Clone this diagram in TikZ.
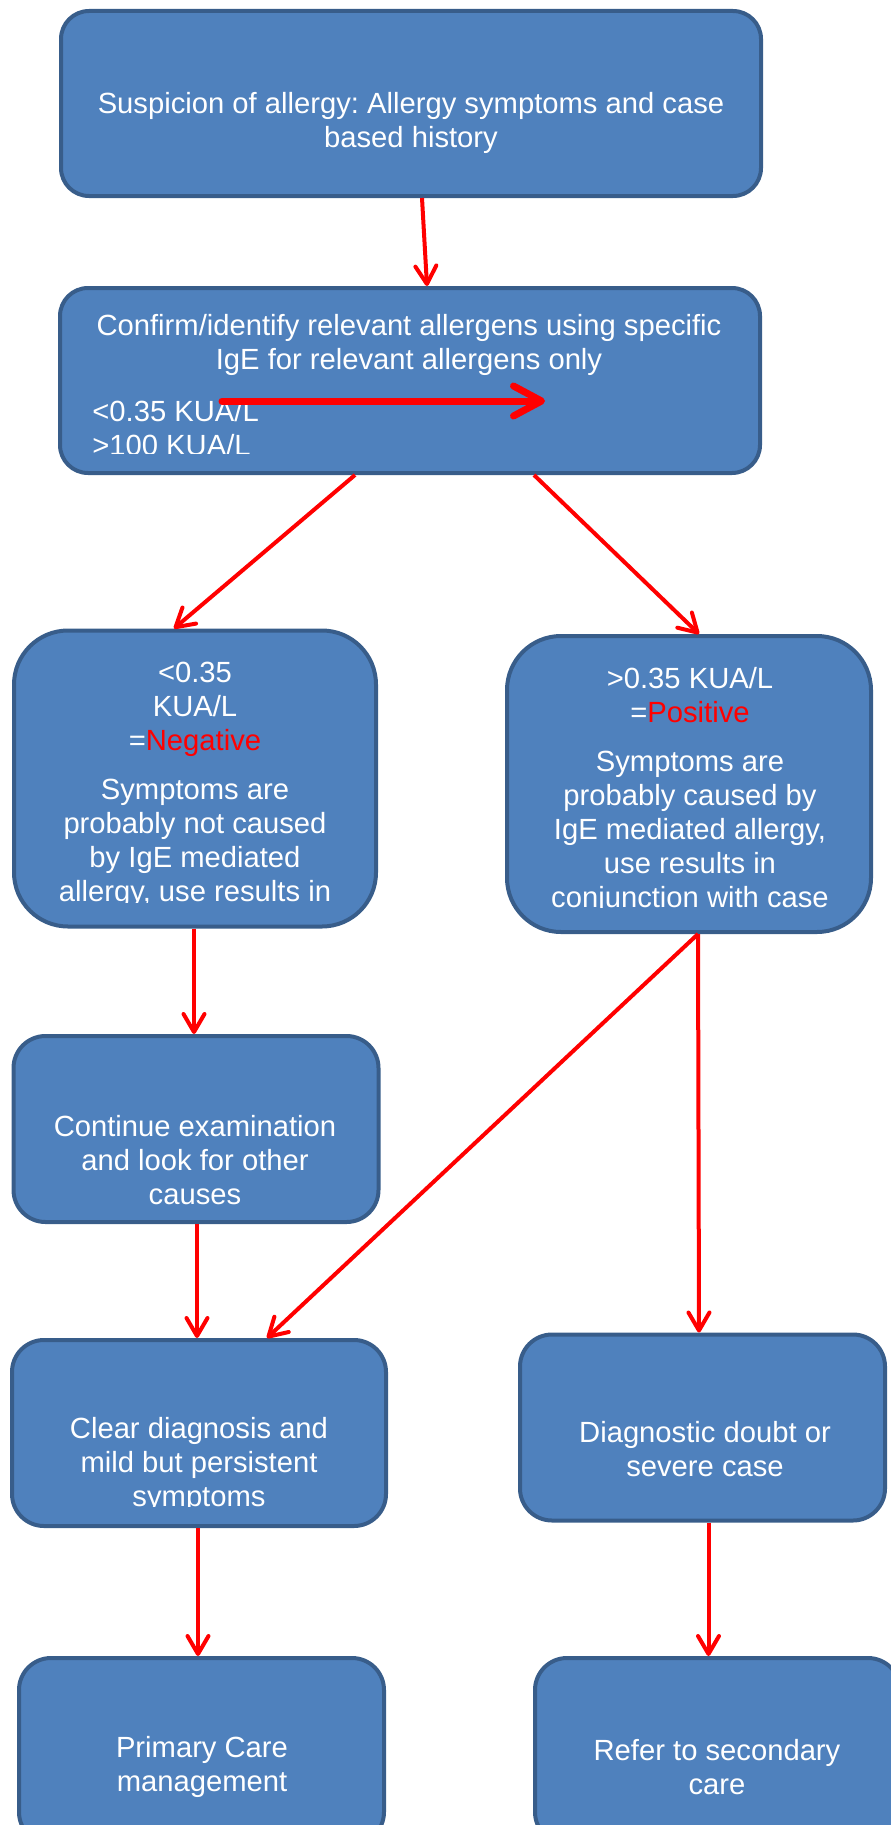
\documentclass[tikz,border=0pt]{standalone}
\usepackage{fontspec}
\setmainfont{Liberation Sans}
\usetikzlibrary{arrows.meta}
\frenchspacing

\definecolor{boxfill}{HTML}{4F81BD}
\definecolor{boxline}{HTML}{385D8A}

\begin{document}
\begin{tikzpicture}[
    x=0.5pt, y=-0.5pt,
    stage/.style={draw=boxline, fill=boxfill, line width=2pt, rounded corners=16pt, inner sep=0pt, minimum width=182.5pt, minimum height=93pt},
    topstage/.style={stage, rounded corners=14pt, minimum width=350pt, minimum height=92.5pt},
    bigstage/.style={stage, rounded corners=27pt, minimum height=148pt},
    txt/.style={text=white, font=\fontsize{14.6}{17}\selectfont, align=center, inner sep=0pt},
    link/.style={red, line width=2pt, -{Straight Barb[length=9pt,width=10.5pt,round]}},
    biglink/.style={red, line width=3.5pt, line cap=round, -{Straight Barb[length=14pt,width=15pt,round]}}
    ]
	\useasboundingbox (0,0) rectangle (890,1825);
	\node [topstage] (susp) at (411,103.5) {};
	\node [topstage] (igetest) at (410,380.5) {};
	\node [bigstage, minimum width=181pt] (neg) at (195,778.5) {};
	\node [bigstage, minimum width=182pt] (pos) at (689,784) {};
	\node [stage] (cont) at (196,1129) {};
	\node [stage, minimum width=187pt] (clear) at (199,1433) {};
	\node [stage] (doubt) at (702.5,1427.5) {};
	\node [stage] (prim) at (201.5,1751) {};
	\node [stage] (refer) at (717.5,1751) {};

	\node [txt] (susptext) at (411,123) {Suspicion of allergy: Allergy symptoms and case\\based history};
	\node [txt] (igetext) at (409,344.5) {Confirm/identify relevant allergens using specific\\IgE for relevant allergens only};
	\begin{scope}
		\clip (0,0) rectangle (890,453);
		\node [txt, anchor=west, align=left] (cuttext) at (92,428) {<0.35 KUA/L\\>100 KUA/L};
	\end{scope}
	\begin{scope}
		\clip (0,0) rectangle (890,902);
		\node [txt] (negtext) at (195,785) {<0.35\\KUA/L\\=\textcolor{red}{Negative}\\[7.5pt]Symptoms are\\probably not caused\\by IgE mediated\\allergy, use results in};
	\end{scope}
	\begin{scope}
		\clip (0,0) rectangle (890,907);
		\node [txt] (postext) at (690,790) {>0.35 KUA/L\\=\textcolor{red}{Positive}\\[7.5pt]Symptoms are\\probably caused by\\IgE mediated allergy,\\use results in\\conjunction with case};
	\end{scope}
	\node [txt] (conttext) at (195,1160) {Continue examination\\and look for other\\causes};
	\begin{scope}
		\clip (0,0) rectangle (890,1506);
		\node [txt] (cleartext) at (199,1465) {Clear diagnosis and\\mild but persistent\\symptoms};
	\end{scope}
	\node [txt] (doubttext) at (705,1449) {Diagnostic doubt or\\severe case};
	\node [txt] (primtext) at (202,1767) {Primary Care\\management};
	\node [txt] (refertext) at (717,1767) {Refer to secondary\\care};

	\coordinate (cutfrom) at (222,401);
	\coordinate (cutto) at (545,401);
	\draw [biglink] (cutfrom) -- (cutto);

	\draw [link] ([shift={(11,0)}]susp.south) -- ([shift={(17,0)}]igetest.north);
	\draw [link] ([shift={(-55,0)}]igetest.south) -- ([shift={(-21,0)}]neg.north);
	\draw [link] ([shift={(124,0)}]igetest.south) -- ([shift={(10,0)}]pos.north);
	\draw [link] ([shift={(-1,0)}]neg.south) -- ([shift={(-2,0)}]cont.north);
	\draw [link] ([shift={(9,0)}]pos.south) -- ([shift={(68,0)}]clear.north);
	\draw [link] ([shift={(9,0)}]pos.south) -- ([shift={(-3.5,0)}]doubt.north);
	\draw [link] ([shift={(1,0)}]cont.south) -- ([shift={(-2,0)}]clear.north);
	\draw [link] ([shift={(-1,0)}]clear.south) -- ([shift={(-3.5,0)}]prim.north);
	\draw [link] ([shift={(6,0)}]doubt.south) -- ([shift={(-9,0)}]refer.north);
\end{tikzpicture}
\end{document}
